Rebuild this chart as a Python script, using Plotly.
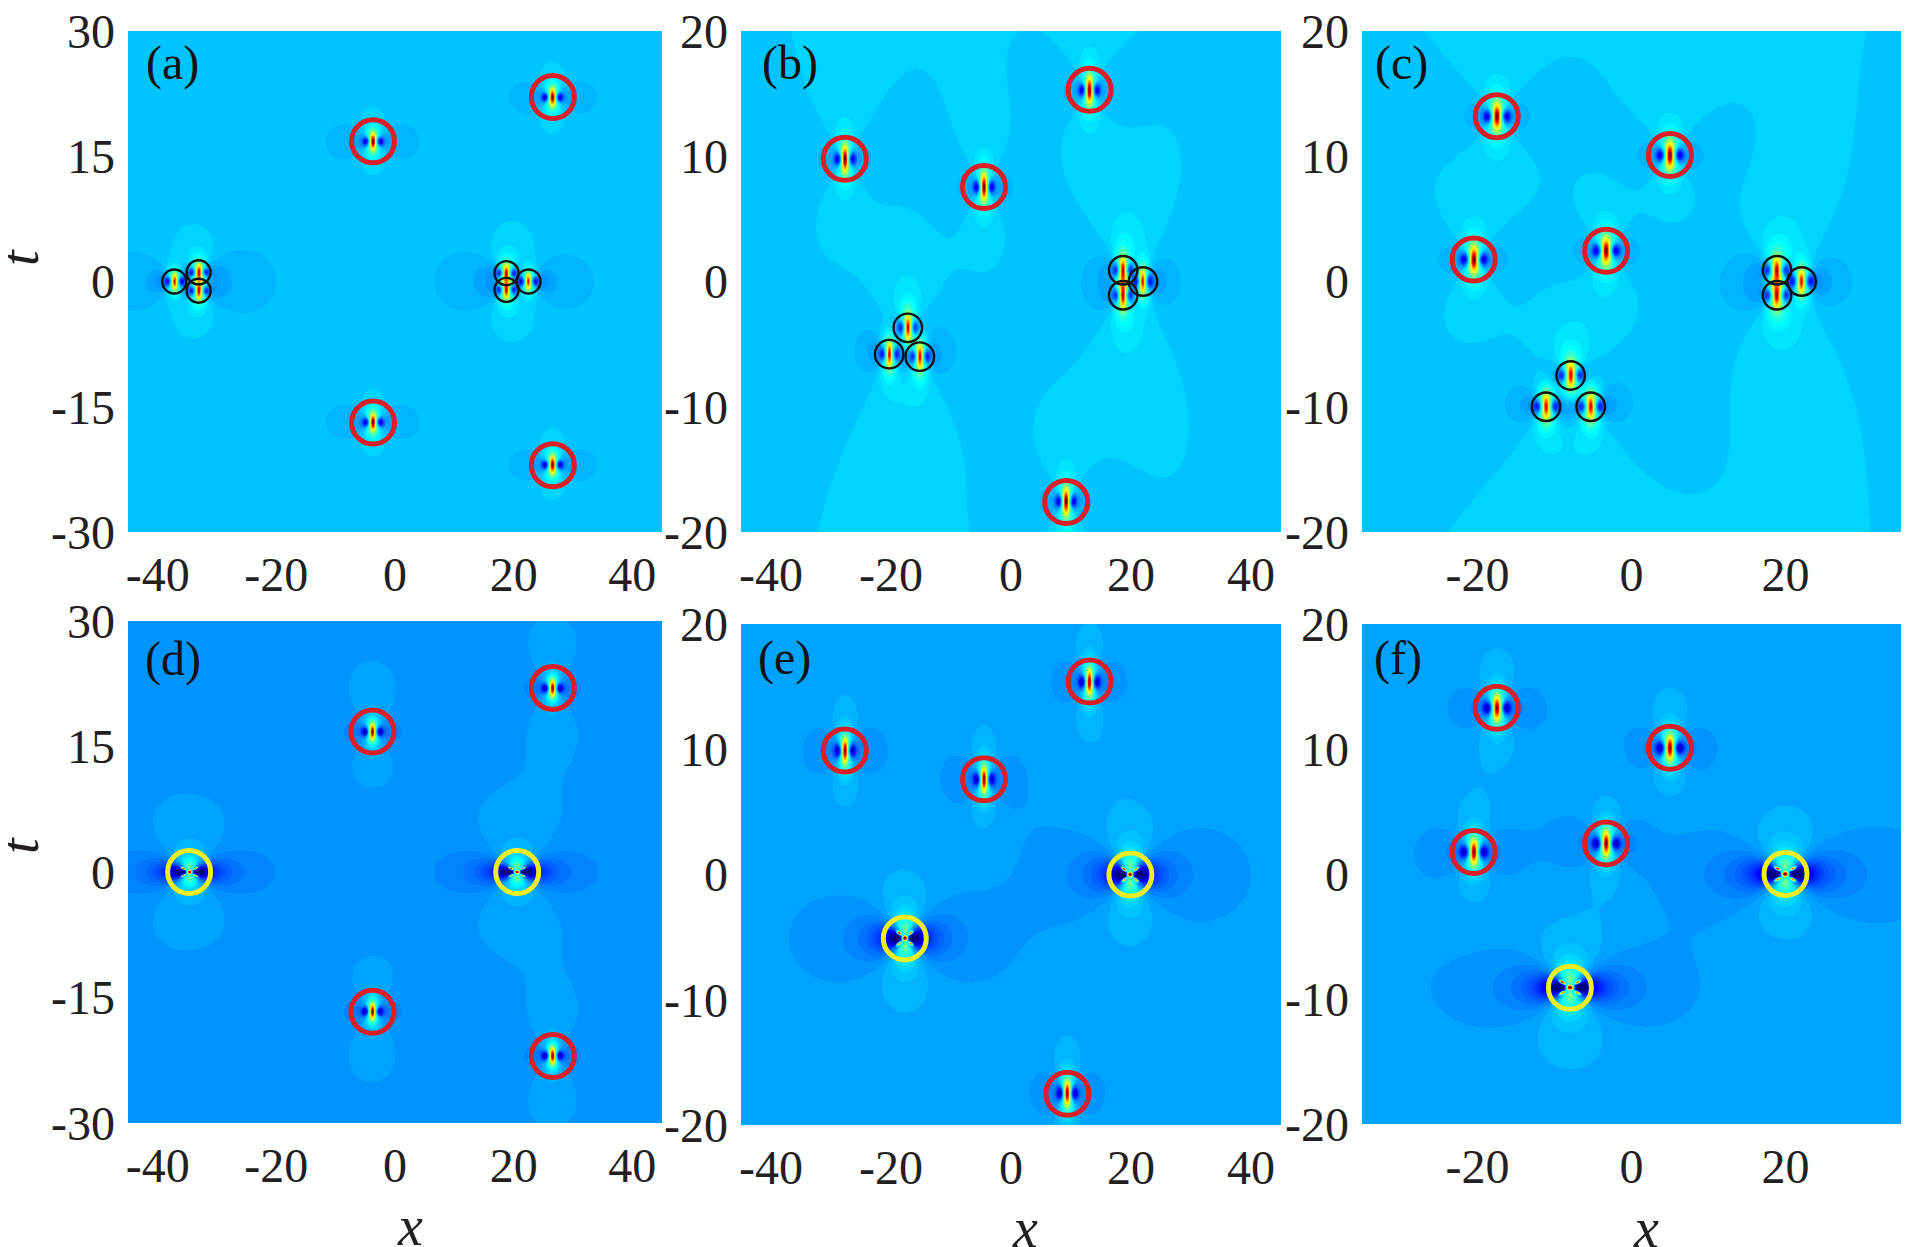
import numpy as np
import plotly.graph_objects as go

# Lump centres, in data units (x, t).
# The colour field itself cannot be read pixel by pixel: it is an approximation,
# built by placing a lump shape at each centre read below.
a_red_x = [26.6, -3.7, -3.7, 26.6]
a_red_t = [22.1, 16.8, -16.9, -22.0]
a_black_x = [-37.2, -33.1, -33.1, 18.8, 18.8, 22.5]
a_black_t = [0.0, 1.1, -1.1, 1.0, -1.0, 0.0]
b_red_x = [13.1, -27.7, -4.5, 9.2]
b_red_t = [15.3, 9.8, 7.55, -17.6]
b_black_x = [18.7, 18.7, 22.0, -17.2, -20.3, -15.2]
b_black_t = [0.9, -1.1, 0.0, -3.7, -5.8, -6.0]
c_red_x = [-17.5, 5.0, -20.5, -3.3]
c_red_t = [13.2, 10.1, 1.76, 2.45]
c_black_x = [18.9, 18.9, 22.1, -7.9, -11.1, -5.3]
c_black_t = [0.9, -1.1, 0.0, -7.5, -10.0, -10.0]
d_red_x = [26.6, -3.8, -3.8, 26.6]
d_red_t = [22.0, 16.8, -16.7, -22.0]
d_yellow_x = [-34.7, 20.6]
d_yellow_t = [0.0, 0.0]
e_red_x = [13.1, -27.7, -4.5, 9.4]
e_red_t = [15.4, 9.9, 7.6, -17.5]
e_yellow_x = [-17.7, 19.9]
e_yellow_t = [-5.1, 0.0]
f_red_x = [-17.5, 5.0, -20.5, -3.3]
f_red_t = [13.3, 10.1, 1.76, 2.45]
f_yellow_x = [20.0, -8.0]
f_yellow_t = [0.0, -9.1]

x_ticks_wide = [-40, -20, 0, 20, 40]
x_ticks_narrow = [-20, 0, 20]
t_ticks_30 = [-30, -15, 0, 15, 30]
t_ticks_20 = [-20, -10, 0, 10, 20]
panel_labels = ["(a)", "(b)", "(c)", "(d)", "(e)", "(f)"]

W, H = 1920, 1247
PAGE = 8  # the page's own margin round the figure
FONT = "Liberation Serif"
TXT = "#231f20"

JET = [[0, "rgb(0,0,128)"], [0.125, "rgb(0,0,255)"], [0.375, "rgb(0,255,255)"],
       [0.625, "rgb(255,255,0)"], [0.875, "rgb(255,0,0)"], [1, "rgb(128,0,0)"]]


def lump(X, T, x0, t0, dip=0.2, fan=0.12, core=0.35, spike=0.25, xd=1.25):
    u = X - x0
    v = T - t0
    a = u / 1.07
    b = v / 0.8
    far = 0.3 * (b ** 2 - a ** 2) / (a ** 2 + b ** 2 + 1) ** 2
    well = -dip * np.exp(-((np.abs(u) - xd) / 0.55) ** 2 - (v / 0.5) ** 2)
    ridge = fan * np.exp(-(u / 1.3) ** 2 - (v / 1.5) ** 2)
    peak = core * np.exp(-(u / 0.55) ** 2 - (v / 1.0) ** 2) + spike * np.exp(-(u / 0.3) ** 2 - (v / 0.45) ** 2)
    return far + well + ridge + peak


def second_order(X, T, x0, t0):
    u = X - x0
    v = T - t0
    a = u / 1.07
    b = v / 0.5
    far = 2.2 * (0.6 * b ** 2 - a ** 2) / (a ** 2 + b ** 2 + 1.6) ** 2
    na = u / 1.0
    nb = v / 0.42
    arms = 0.0
    for su, sv, amp in [(-1, 1, 0.8), (1, 1, 0.65), (-1, -1, 0.6), (1, -1, 0.6)]:
        p = (na * su + nb * sv - 2) / np.sqrt(2)
        q = (na * sv - nb * su) / np.sqrt(2)
        arms = arms + amp * np.exp(-(p / 0.45) ** 2 - (q / 0.22) ** 2)
    peak = 0.8 * np.exp(-(u / 0.45) ** 2 - (v / 0.18) ** 2)
    return far + arms + peak


def field(xr, tr, nx, nt, bg, red, small, double):
    x = np.linspace(-xr, xr, nx)
    t = np.linspace(-tr, tr, nt)
    X, T = np.meshgrid(x, t)
    z = np.full_like(X, bg)
    for x0, t0 in zip(*red):
        z += lump(X, T, x0, t0)
    for x0, t0 in zip(*small):
        z += lump(X, T, x0, t0, dip=0.14, fan=0.11, core=0.28, spike=0.2, xd=1.2)
    for x0, t0 in zip(*double):
        z += second_order(X, T, x0, t0)
    q = np.clip(np.round(np.clip(z, 0, 1) * 63), 0, 63).astype(np.uint8)
    return x, t, q


panels = [
    dict(box=(128, 31, 662, 532), xr=45, tr=30, bg=0.315, red=(a_red_x, a_red_t), black=(a_black_x, a_black_t), yellow=([], []), xt=x_ticks_wide, tt=t_ticks_30, lab=(0.084, 0.937), bs=24),
    dict(box=(741, 31, 1281, 532), xr=45, tr=20, bg=0.325, red=(b_red_x, b_red_t), black=(b_black_x, b_black_t), yellow=([], []), xt=x_ticks_wide, tt=t_ticks_20, lab=(0.091, 0.937), bs=28.5),
    dict(box=(1362, 31, 1901, 532), xr=35, tr=20, bg=0.325, red=(c_red_x, c_red_t), black=(c_black_x, c_black_t), yellow=([], []), xt=x_ticks_narrow, tt=t_ticks_20, lab=(0.073, 0.937), bs=28.5),
    dict(box=(128, 621, 662, 1123), xr=45, tr=30, bg=0.275, red=(d_red_x, d_red_t), black=([], []), yellow=(d_yellow_x, d_yellow_t), xt=x_ticks_wide, tt=t_ticks_30, lab=(0.085, 0.925), bs=24),
    dict(box=(741, 624, 1281, 1125), xr=45, tr=20, bg=0.285, red=(e_red_x, e_red_t), black=([], []), yellow=(e_yellow_x, e_yellow_t), xt=x_ticks_wide, tt=t_ticks_20, lab=(0.081, 0.932), bs=28.5),
    dict(box=(1362, 624, 1901, 1124), xr=35, tr=20, bg=0.285, red=(f_red_x, f_red_t), black=([], []), yellow=(f_yellow_x, f_yellow_t), xt=x_ticks_narrow, tt=t_ticks_20, lab=(0.066, 0.932), bs=28.5),
]

fig = go.Figure()
layout = dict(
    width=W, height=H, margin=dict(l=0, r=0, t=0, b=0), showlegend=False,
    paper_bgcolor="white", plot_bgcolor="white",
    font=dict(family=FONT, size=48, color=TXT),
)
annotations = []

for i, p in enumerate(panels):
    n = "" if i == 0 else str(i + 1)
    x0, y0, x1, y1 = [c - PAGE for c in p["box"]]
    xa, ya = "x" + n, "y" + n
    x, t, q = field(p["xr"], p["tr"], x1 - x0, y1 - y0, p["bg"], p["red"], p["black"], p["yellow"])
    fig.add_trace(go.Heatmap(x=x, y=t, z=q, zmin=0, zmax=63, colorscale=JET, showscale=False,
                             hoverinfo="skip", xaxis=xa, yaxis=ya))
    fig.add_trace(go.Scatter(x=p["red"][0], y=p["red"][1], mode="markers", xaxis=xa, yaxis=ya,
                             marker=dict(symbol="circle-open", size=43, color="#dc1f26", line=dict(width=5, color="#dc1f26"))))
    if p["black"][0]:
        fig.add_trace(go.Scatter(x=p["black"][0], y=p["black"][1], mode="markers", xaxis=xa, yaxis=ya,
                                 marker=dict(symbol="circle-open", size=p["bs"], color="#111111", line=dict(width=2.4, color="#111111"))))
    if p["yellow"][0]:
        fig.add_trace(go.Scatter(x=p["yellow"][0], y=p["yellow"][1], mode="markers", xaxis=xa, yaxis=ya,
                                 marker=dict(symbol="circle-open", size=43, color="#f0ee22", line=dict(width=5, color="#f0ee22"))))
    common = dict(showgrid=False, zeroline=False, showline=False, ticks="", ticklen=0, fixedrange=True, automargin=False,
                  ticklabeloverflow="allow", tickfont=dict(family=FONT, size=48, color=TXT), tickmode="array")
    layout["xaxis" + n] = dict(common, domain=[x0 / W, x1 / W], range=[-p["xr"], p["xr"]], anchor=ya,
                               tickvals=p["xt"], ticktext=[str(v) for v in p["xt"]], ticklabelstandoff=10)
    layout["yaxis" + n] = dict(common, domain=[1 - y1 / H, 1 - y0 / H], range=[-p["tr"], p["tr"]], anchor=xa,
                               tickvals=p["tt"], ticktext=[str(v) for v in p["tt"]], ticklabelstandoff=12)
    annotations.append(dict(text=panel_labels[i], xref=xa + " domain", yref=ya + " domain", x=p["lab"][0], y=p["lab"][1],
                            xanchor="center", yanchor="middle", showarrow=False, font=dict(family=FONT, size=48, color="#111111")))

for px, py, s, ang in [(410, 1226, "x", 0), (1025, 1228, "x", 0), (1646, 1228, "x", 0), (19, 258, "t", -90), (19, 846, "t", -90)]:
    annotations.append(dict(text="<i>%s</i>" % s, xref="paper", yref="paper", x=(px - PAGE) / W, y=1 - (py - PAGE) / H,
                            xanchor="center", yanchor="middle", showarrow=False,
                            textangle=ang, font=dict(family=FONT, size=56, color=TXT)))

layout["annotations"] = annotations
fig.update_layout(**layout)
fig.write_html("out.html")
